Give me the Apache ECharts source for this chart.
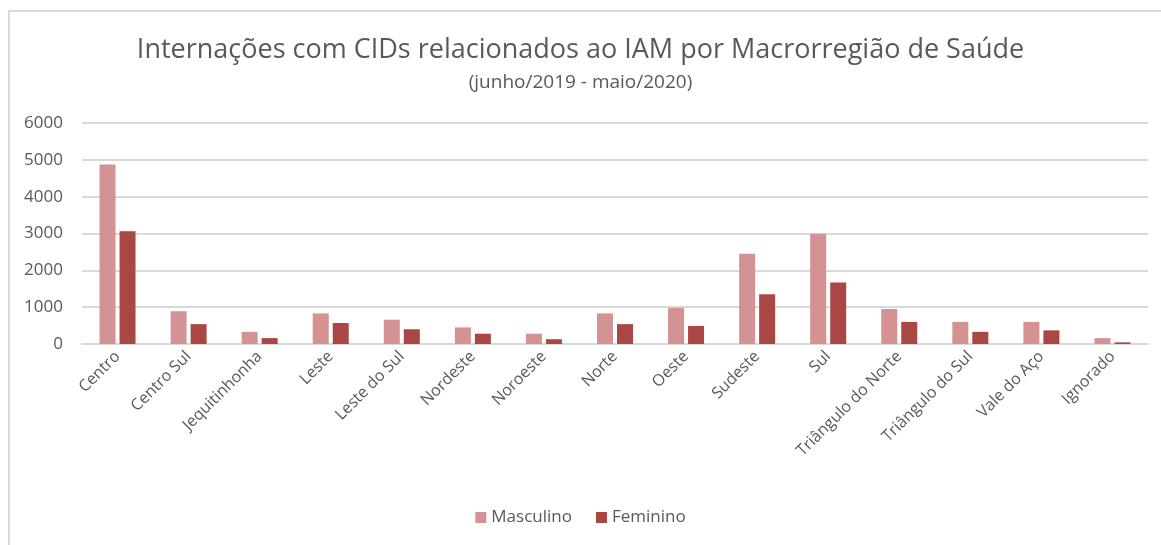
<!DOCTYPE html>
<html>
<head>
<meta charset="utf-8">
<style>
  html, body { margin: 0; padding: 0; background: #fff; }
  #chart { width: 1161px; height: 545px; }
</style>
<script src="https://cdn.jsdelivr.net/npm/echarts@6/dist/echarts.min.js"></script>
</head>
<body>
<div id="chart"></div>
<script>
const categories = [
  'Centro', 'Centro Sul', 'Jequitinhonha', 'Leste', 'Leste do Sul',
  'Nordeste', 'Noroeste', 'Norte', 'Oeste', 'Sudeste', 'Sul',
  'Triângulo do Norte', 'Triângulo do Sul', 'Vale do Aço', 'Ignorado'
]
const masculino = [4870, 890, 330, 830, 660, 450, 280, 830, 980, 2450, 2990, 950, 600, 600, 160]
const feminino = [3060, 540, 160, 570, 400, 280, 130, 540, 490, 1350, 1670, 600, 330, 370, 45]

const textColor = '#595959'
const fontFamily = 'Open Sans, sans-serif'

const chart = echarts.init(document.getElementById('chart'))
chart.setOption({
  animation: false,
  textStyle: { fontFamily: fontFamily },
  graphic: [
    {
      type: 'rect',
      shape: { x: 9, y: 11, width: 1200, height: 600 },
      style: { fill: 'none', stroke: '#d9d9d9', lineWidth: 2 }
    }
  ],
  title: {
    text: 'Internações com CIDs relacionados ao IAM por Macrorregião de Saúde',
    subtext: '(junho/2019 - maio/2020)',
    left: 'center',
    top: 32,
    itemGap: 9,
    textStyle: { color: textColor, fontSize: 27, fontWeight: 'normal', fontFamily: fontFamily },
    subtextStyle: { color: textColor, fontSize: 19, fontFamily: fontFamily }
  },
  legend: {
    bottom: 14,
    left: 'center',
    itemWidth: 11,
    itemHeight: 11,
    itemGap: 24,
    icon: 'rect',
    textStyle: { color: textColor, fontSize: 17 },
    data: ['Masculino', 'Feminino']
  },
  grid: {
    left: 82,
    right: 13,
    top: 123,
    bottom: 201
  },
  xAxis: {
    type: 'category',
    data: categories,
    axisLine: { lineStyle: { color: '#d9d9d9', width: 2 } },
    axisTick: { show: false },
    axisLabel: { rotate: 45, color: textColor, fontSize: 16, margin: 10, interval: 0 }
  },
  yAxis: {
    type: 'value',
    min: 0,
    max: 6000,
    interval: 1000,
    axisLine: { show: false },
    axisTick: { show: false },
    axisLabel: { color: textColor, fontSize: 17, margin: 19, formatter: (v) => String(v) },
    splitLine: { lineStyle: { color: '#d9d9d9', width: 2 } }
  },
  series: [
    {
      name: 'Masculino',
      type: 'bar',
      data: masculino,
      barWidth: 16,
      barGap: '25%',
      itemStyle: { color: '#D49292' }
    },
    {
      name: 'Feminino',
      type: 'bar',
      data: feminino,
      barWidth: 16,
      itemStyle: { color: '#AA4643' }
    }
  ]
})
</script>
</body>
</html>
